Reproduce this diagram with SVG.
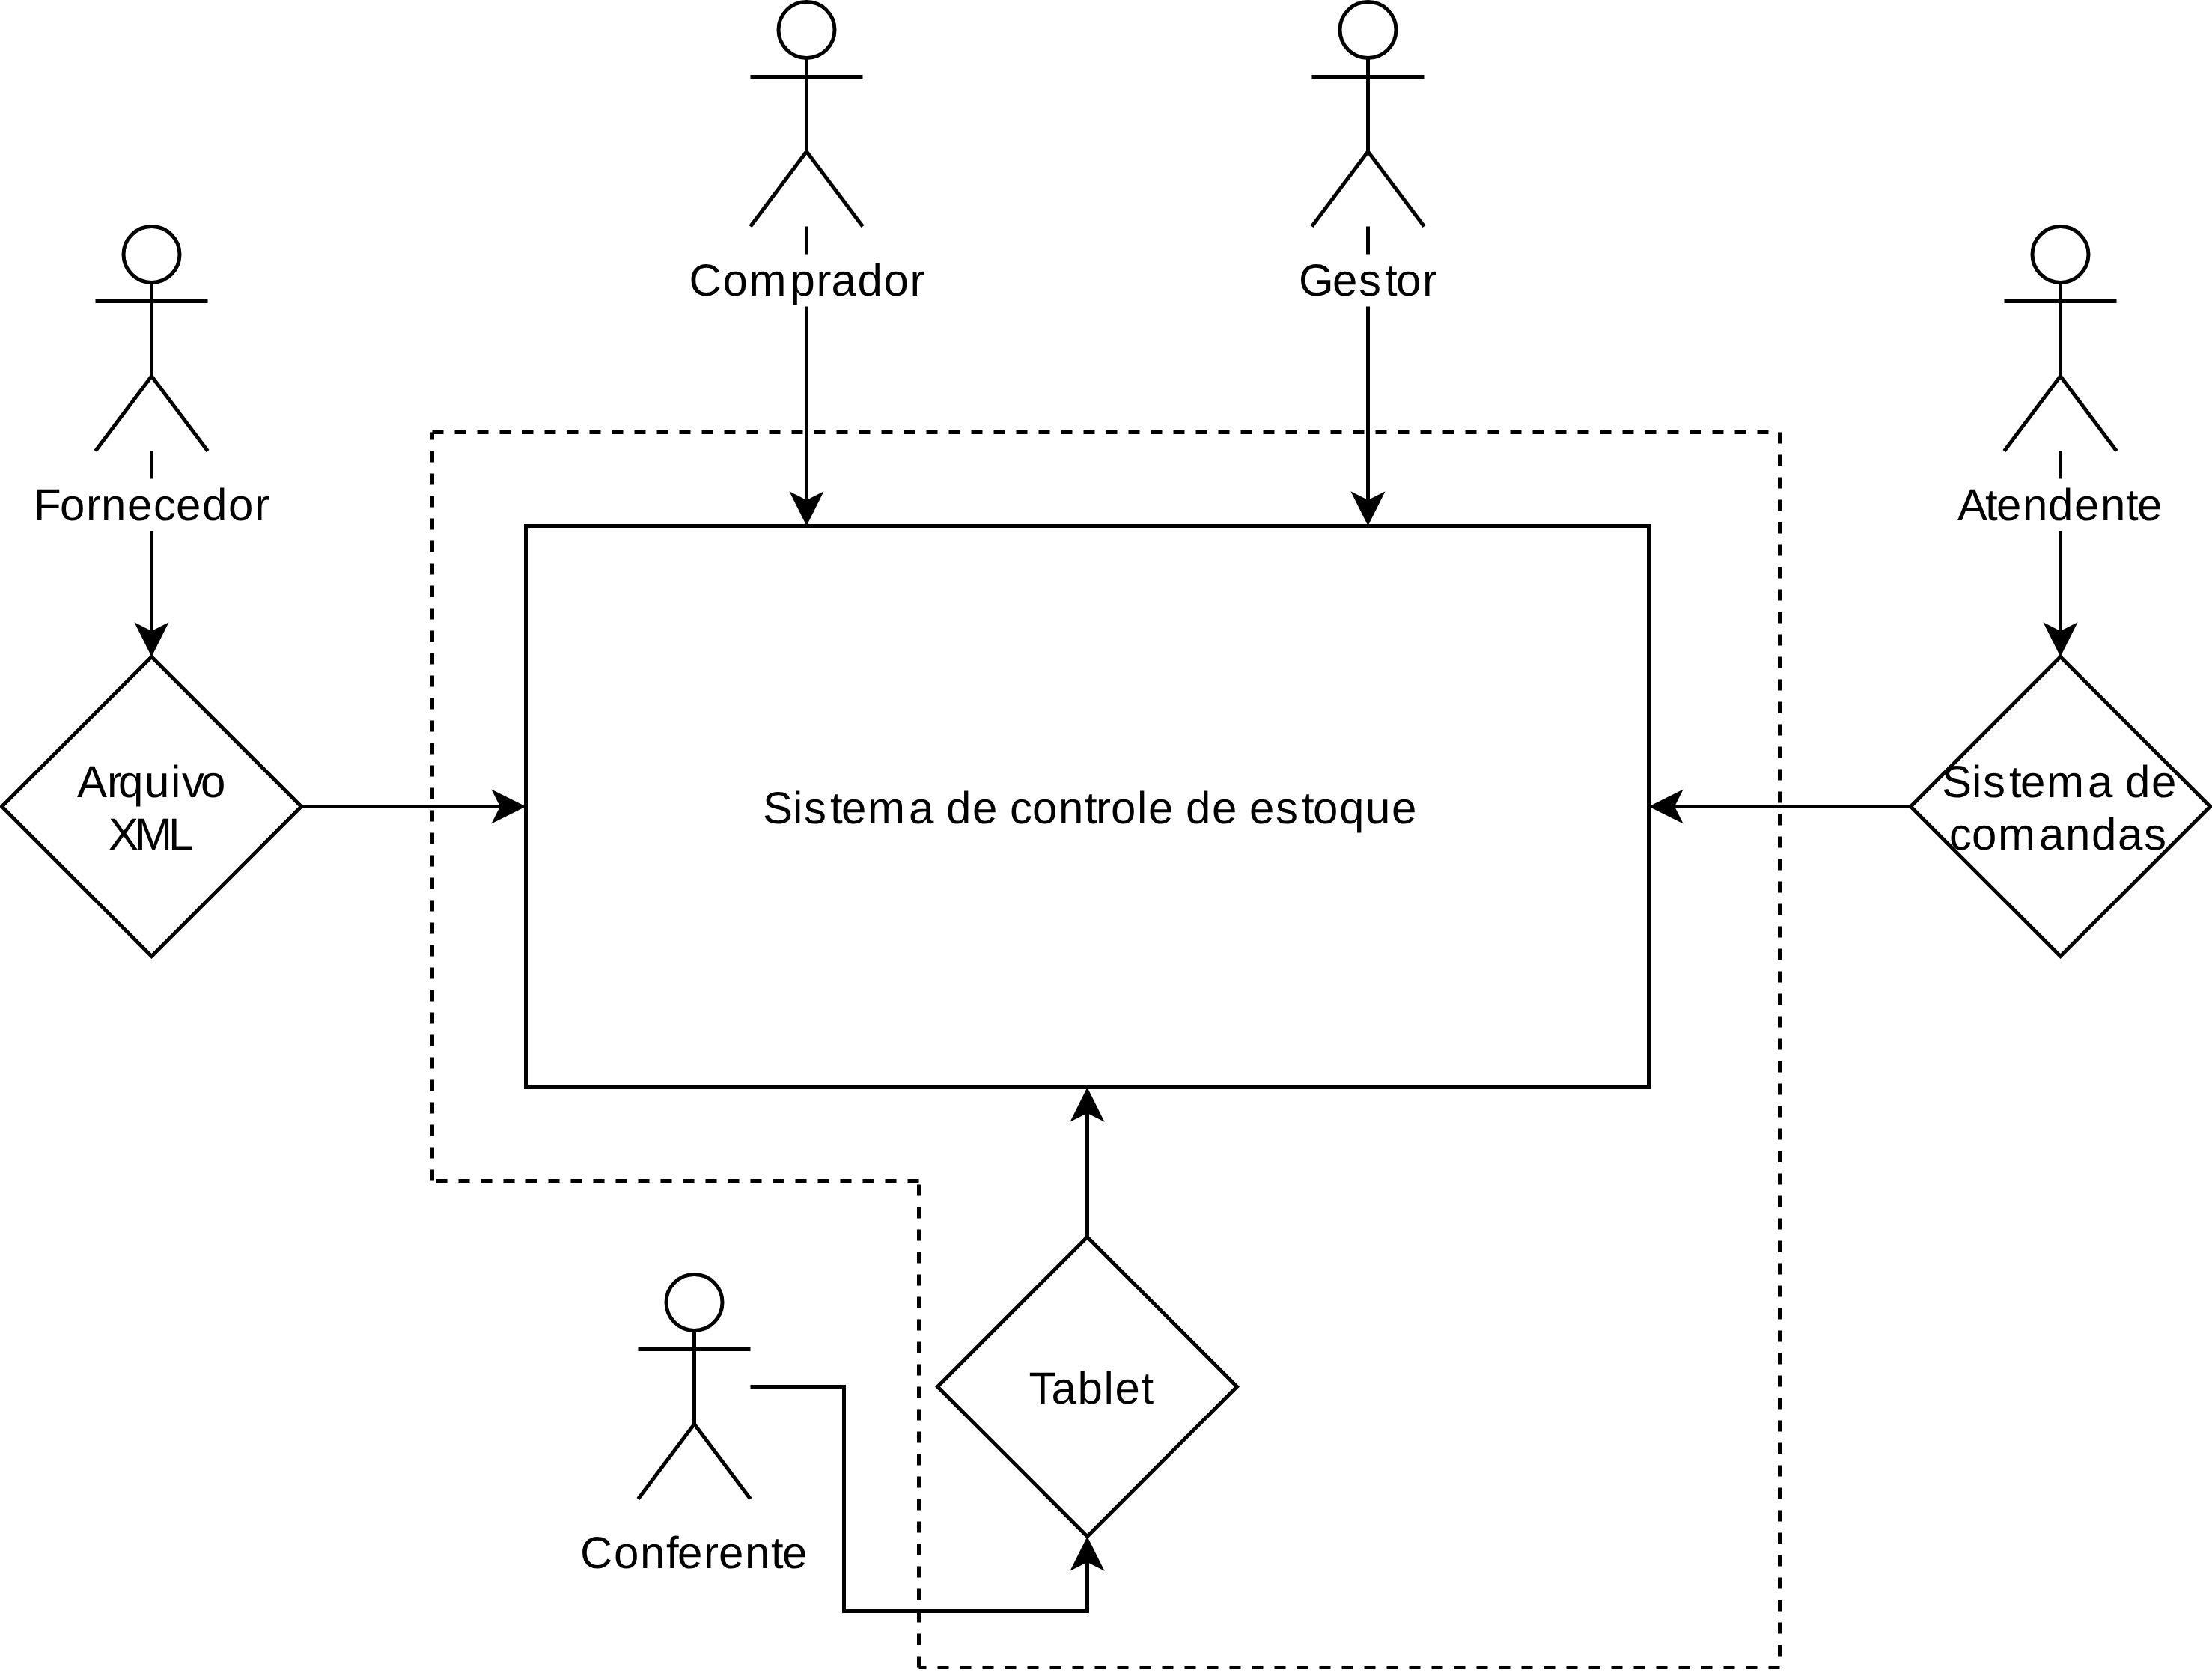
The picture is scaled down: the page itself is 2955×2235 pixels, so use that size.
<svg xmlns="http://www.w3.org/2000/svg" xmlns:xlink="http://www.w3.org/1999/xlink" width="2955" height="2235" viewBox="0 0 2955 2235">
<style>
.shape{fill:#fff;stroke:#000;stroke-width:5;stroke-miterlimit:10}
.edge{fill:none;stroke:#000;stroke-width:5;stroke-miterlimit:10;marker-end:url(#arrow)}
.dash{fill:none;stroke:#000;stroke-width:5;stroke-dasharray:15 15;stroke-miterlimit:10}
.bg{fill:#fff;stroke:none}
text{font-family:"Liberation Sans",Arial,sans-serif;font-size:60px;fill:#000;text-rendering:geometricPrecision}
</style>
<defs>
<marker id="arrow" markerUnits="userSpaceOnUse" viewBox="-10 -25 55 50" markerWidth="55" markerHeight="50" refX="8.75" refY="0" orient="auto">
<path d="M35 0L0 -17.5L8.75 0L0 17.5Z" fill="#000" stroke="#000" stroke-width="5" stroke-miterlimit="10"/>
</marker>
<g id="actor">
<ellipse class="shape" cx="75" cy="37.5" rx="37.5" ry="37.5"/>
<path class="shape" style="fill:none" d="M75 75V200M75 200L0 300M75 200L150 300M0 100H150"/>
</g>
</defs>
<rect width="2955" height="2235" fill="#fff"/>
<g id="boundary">
<path class="dash" d="M577.5 577.5H2377.5"/>
<path class="dash" d="M2377.5 577.5V2227.5"/>
<path class="dash" d="M2377.5 2227.5H1227.5"/>
<path class="dash" d="M1227.5 2227.5V1577.5"/>
<path class="dash" d="M1227.5 1577.5H577.5"/>
<path class="dash" d="M577.5 1577.5V577.5"/>
</g>
<g id="connectors">
<path class="edge" d="M202.5 602.5V845.65"/>
<path class="edge" d="M1077.5 302.5V670.65"/>
<path class="edge" d="M1827.5 302.5V670.65"/>
<path class="edge" d="M2752.5 602.5V845.65"/>
<path class="edge" d="M402.5 1077.5H670.65"/>
<path class="edge" d="M2552.5 1077.5H2234.35"/>
<path class="edge" d="M1452.5 1652.5V1484.35"/>
<path class="edge" d="M1002.5 1852.5H1127.5V2152.5H1452.5V2084.35"/>
</g>
<g id="sistema">
<rect class="shape" x="702.5" y="702.5" width="1500" height="750"/>
<text y="1100" x="1018.9 1058.9 1073.9 1108.9 1123.9 1158.9 1213.9 1248.9 1263.9 1298.9 1333.9 1348.9 1378.9 1413.9 1448.9 1463.9 1483.9 1518.9 1533.9 1568.9 1583.9 1618.9 1653.9 1668.9 1703.9 1738.9 1753.9 1788.9 1823.9 1858.9">Sistema de controle de estoque</text>
</g>
<g id="arquivo-xml">
<path class="shape" d="M202.5 877.5L402.5 1077.5L202.5 1277.5L2.5 1077.5Z"/>
<text y="1064.5" x="103 143 158 193 228 243 268">Arquivo</text>
<text y="1134.5" x="145 180 225">XML</text>
</g>
<g id="sistema-comandas">
<path class="shape" d="M2752.5 877.5L2952.5 1077.5L2752.5 1277.5L2552.5 1077.5Z"/>
<text y="1064.5" x="2594 2634 2649 2684 2699 2734 2789 2824 2839 2874">Sistema de</text>
<text y="1134.5" x="2604 2634 2669 2724 2759 2794 2829 2864">comandas</text>
</g>
<g id="tablet">
<path class="shape" d="M1452.5 1652.5L1652.5 1852.5L1452.5 2052.5L1252.5 1852.5Z"/>
<text y="1875" x="1374.5 1404.5 1439.5 1474.5 1489.5 1524.5">Tablet</text>
</g>
<g id="fornecedor">
<use xlink:href="#actor" href="#actor" x="127.5" y="302.5"/>
<rect class="bg" x="40" y="639.5" width="325" height="70"/>
<text y="694.5" x="45 80 115 135 170 205 235 270 305 340">Fornecedor</text>
</g>
<g id="comprador">
<use xlink:href="#actor" href="#actor" x="1002.5" y="2.5"/>
<rect class="bg" x="915" y="339.5" width="325" height="70"/>
<text y="394.5" x="920.5 965.5 1000.5 1055.5 1090.5 1110.5 1145.5 1180.5 1215.5">Comprador</text>
</g>
<g id="gestor">
<use xlink:href="#actor" href="#actor" x="1752.5" y="2.5"/>
<rect class="bg" x="1730" y="339.5" width="195" height="70"/>
<text y="394.5" x="1735 1780 1815 1850 1865 1900">Gestor</text>
</g>
<g id="atendente">
<use xlink:href="#actor" href="#actor" x="2677.5" y="302.5"/>
<rect class="bg" x="2610" y="639.5" width="285" height="70"/>
<text y="694.5" x="2615 2652 2667 2702 2736 2771 2806 2840 2855">Atendente</text>
</g>
<g id="conferente">
<use xlink:href="#actor" href="#actor" x="852.5" y="1702.5"/>
<text y="2094.5" x="775 820 855 890 905 940 960 995 1030 1045">Conferente</text>
</g>
</svg>
